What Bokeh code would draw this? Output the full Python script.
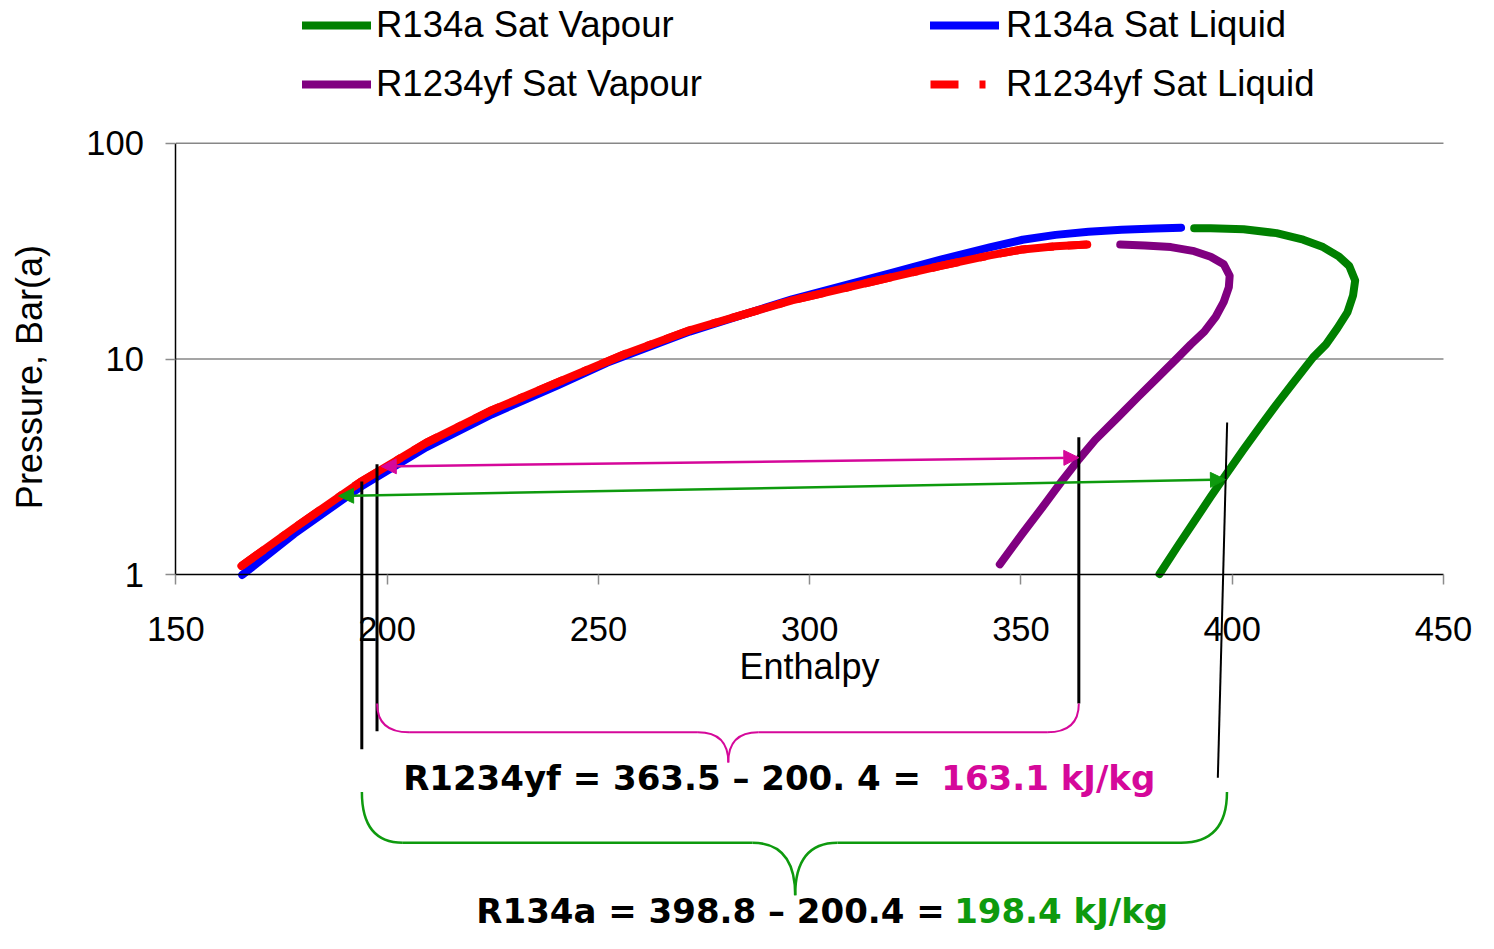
import math
from bokeh.plotting import figure
from bokeh.models import (Range1d, FixedTicker, PrintfTickFormatter, Legend, LegendItem,
                          Label, Arrow, NormalHead)
from bokeh.embed import file_html
from bokeh.resources import INLINE

# ---------------- data ----------------
r134a_liq_h = [165.7, 178.0, 193.6, 209.2, 224.8, 240.4, 252.0, 271.6, 295.8, 319.2,
               331.0, 342.6, 350.4, 358.2, 366.0, 373.8, 381.7, 387.9]
r134a_liq_p = [1.00, 1.55, 2.55, 3.90, 5.55, 7.55, 9.6, 13.4, 18.9, 25.0,
               28.9, 32.9, 35.7, 37.6, 38.9, 39.7, 40.2, 40.6]

r1234yf_liq_h = [165.5, 178.0, 193.6, 209.2, 224.8, 240.4, 256.0, 271.6, 295.8, 319.2,
                 331.0, 342.6, 350.4, 358.2, 365.7]
r1234yf_liq_p = [1.10, 1.65, 2.69, 4.09, 5.80, 7.81, 10.5, 13.6, 18.7, 23.9,
                 27.0, 30.2, 32.2, 33.3, 33.9]

r134a_vap_h = [391.0, 394.9, 402.7, 410.5, 416.8, 421.5, 425.3, 427.7, 429.1, 428.6,
               427.3, 424.9, 422.2, 419.1, 414.4, 410.5, 406.6, 402.7, 398.0, 394.9,
               391.0, 387.1, 382.8]
r134a_vap_p = [40.3, 40.3, 39.9, 38.3, 35.7, 33.0, 29.8, 27.0, 23.1, 19.7,
               16.5, 13.9, 11.7, 10.15, 7.74, 6.17, 4.86, 3.82, 2.82, 2.30,
               1.77, 1.36, 1.01]

r1234yf_vap_h = [373.5, 379.3, 385.5, 391.0, 394.9, 398.0, 399.4, 399.2, 398.0, 396.1,
                 393.4, 390.2, 387.1, 382.4, 377.7, 373.1, 367.6, 363.7, 359.8, 355.9,
                 350.4, 345.0]
r1234yf_vap_p = [33.9, 33.6, 33.0, 31.6, 29.8, 27.5, 24.3, 21.5, 18.4, 15.7,
                 13.4, 11.7, 10.15, 8.23, 6.67, 5.41, 4.23, 3.43, 2.74, 2.16,
                 1.56, 1.12]

x_ticks = [150, 200, 250, 300, 350, 400, 450]
y_ticks = [1, 10, 100]
grid_levels = [10, 100]

series_names = ["R134a Sat Vapour", "R134a Sat Liquid", "R1234yf Sat Vapour", "R1234yf Sat Liquid"]
x_title = "Enthalpy"
y_title = "Pressure, Bar(a)"

eq_yf_black = "R1234yf  = 363.5 \u2013 200. 4 ="
eq_yf_value = "163.1 kJ/kg"
eq_134_black = "R134a = 398.8 \u2013 200.4 ="
eq_134_value = "198.4 kJ/kg"

# ---------------- styles ----------------
GREEN = "#008000"
BLUE = "#0000FF"
PURPLE = "#800080"
RED = "#FF0000"
PINK = "#D5089A"
ANN_GREEN = "#0E9A0E"
FONT = "Liberation Sans"
EQ_FONT = "DejaVu Sans"

p = figure(width=1478, height=933, title=None,
           x_range=Range1d(108.49, 458.29), y_range=Range1d(0.02184, 457.9),
           y_axis_type="log", output_backend="svg", toolbar_location=None,
           min_border=0)
p.outline_line_color = None
p.background_fill_color = "white"
p.border_fill_color = "white"
p.grid.visible = False

# horizontal grid lines limited to the plot area
p.segment(x0=[x_ticks[0]] * len(grid_levels), x1=[x_ticks[-1]] * len(grid_levels),
          y0=grid_levels, y1=grid_levels, line_color="#878787", line_width=1.5)

# axes placed at fixed data locations
xa = p.xaxis[0]
xa.fixed_location = y_ticks[0]
xa.bounds = (x_ticks[0], x_ticks[-1])
xa.ticker = FixedTicker(ticks=x_ticks)
xa.axis_label = x_title

ya = p.yaxis[0]
ya.fixed_location = x_ticks[0]
ya.bounds = (y_ticks[0], y_ticks[-1])
ya.ticker = FixedTicker(ticks=y_ticks, minor_ticks=[])
ya.formatter = PrintfTickFormatter(format="%d")

for ax in (xa, ya):
    ax.axis_line_color = "black"
    ax.axis_line_width = 1.5
    ax.major_tick_line_color = "#8c8c8c"
    ax.major_tick_line_width = 1.5
    ax.major_tick_out = 10
    ax.major_tick_in = 0
    ax.minor_tick_line_color = None
    ax.major_label_text_font = FONT
    ax.major_label_text_font_size = "34.5px"
    ax.major_label_text_color = "black"
    ax.axis_label_text_font = FONT
    ax.axis_label_text_font_size = "36px"
    ax.axis_label_text_font_style = "normal"
    ax.axis_label_text_color = "black"
xa.major_label_standoff = 32
xa.axis_label_standoff = 2
ya.major_label_standoff = 22

# y-axis title (placed slightly below the axis centre, as in the reference)
p.add_layout(Label(x=115.3, y=8.25, text=y_title, angle=math.pi / 2,
                   text_font=FONT, text_font_size="36px", text_color="black",
                   text_align="center", text_baseline="middle"))

# ---------------- curves ----------------
lw = 8
r_g = p.line(r134a_vap_h, r134a_vap_p, line_color=GREEN, line_width=lw, line_cap="round", line_join="round")
r_b = p.line(r134a_liq_h, r134a_liq_p, line_color=BLUE, line_width=lw, line_cap="round", line_join="round")
r_pu = p.line(r1234yf_vap_h, r1234yf_vap_p, line_color=PURPLE, line_width=lw, line_cap="round", line_join="round")
# dash-dot version (used by the legend), covered by the solid curve drawn on top
r_r_leg = p.line(r1234yf_liq_h, r1234yf_liq_p, line_color=RED, line_width=lw, line_dash="28 21 6 14")
r_r = p.line(r1234yf_liq_h, r1234yf_liq_p, line_color=RED, line_width=lw, line_cap="round", line_join="round")

# ---------------- annotations ----------------
# double arrows
for (xs, ys, xe, ye, c) in [(198.6, 3.18, 363.7, 3.494, PINK), (188.5, 2.321, 398.4, 2.765, ANN_GREEN)]:
    p.add_layout(Arrow(start=NormalHead(size=15, fill_color=c, line_color=c),
                       end=NormalHead(size=15, fill_color=c, line_color=c),
                       x_start=xs, y_start=ys, x_end=xe, y_end=ye,
                       line_color=c, line_width=2.5))

# vertical black marker lines
p.segment(x0=[194.0, 197.6, 363.7], y0=[2.71, 3.256, 4.340],
          x1=[194.0, 197.6, 363.7], y1=[0.1557, 0.1888, 0.2540],
          line_color="black", line_width=3)
p.segment(x0=[398.8], y0=[5.08], x1=[396.6], y1=[0.1149], line_color="black", line_width=2)

# braces
def brace(xl, xa_, xb, xt, xc, xd, xr, ye, yb, yt, color, w):
    p.quadratic(x0=[xl, xb, xt, xd], y0=[ye, yb, yt, yb],
                x1=[xa_, xt, xc, xr], y1=[yb, yt, yb, ye],
                cx=[xl, xt, xt, xr], cy=[yb, yb, yb, yb],
                line_color=color, line_width=w)
    p.segment(x0=[xa_, xc], y0=[yb, yb], x1=[xb, xd], y1=[yb, yb], line_color=color, line_width=w)

brace(197.62, 205.19, 273.55, 280.74, 287.84, 356.20, 363.70, 0.2540, 0.1868, 0.1354, PINK, 2)
brace(194.02, 203.71, 286.43, 296.57, 306.57, 387.88, 398.76, 0.0988, 0.0575, 0.03287, ANN_GREEN, 2.5)

# equations
def eq(x, y, text, color):
    p.add_layout(Label(x=x, y=y, text=text, text_font=EQ_FONT, text_font_size="34px",
                       text_font_style="bold", text_color=color,
                       text_align="left", text_baseline="alphabetic"))

eq(203.78, 0.1152, eq_yf_black, "black")
eq(331.15, 0.1152, eq_yf_value, PINK)
eq(221.11, 0.0277, eq_134_black, "black")
eq(334.19, 0.0277, eq_134_value, ANN_GREEN)

# ---------------- legends ----------------
def make_legend(items, x, standoff):
    lg = Legend(items=items, location=(x, 828), orientation="vertical",
                label_text_font=FONT, label_text_font_size="36.5px", label_text_color="black",
                glyph_width=69, glyph_height=34, label_height=34, label_standoff=standoff,
                spacing=17, padding=0, margin=0, border_line_color=None,
                background_fill_alpha=0)
    p.add_layout(lg)

make_legend([LegendItem(label=series_names[0], renderers=[r_g]),
             LegendItem(label=series_names[2], renderers=[r_pu])], 302, 5)
make_legend([LegendItem(label=series_names[1], renderers=[r_b]),
             LegendItem(label=series_names[3], renderers=[r_r_leg])], 930, 7)

open("out.html", "w").write(file_html(p, INLINE))
